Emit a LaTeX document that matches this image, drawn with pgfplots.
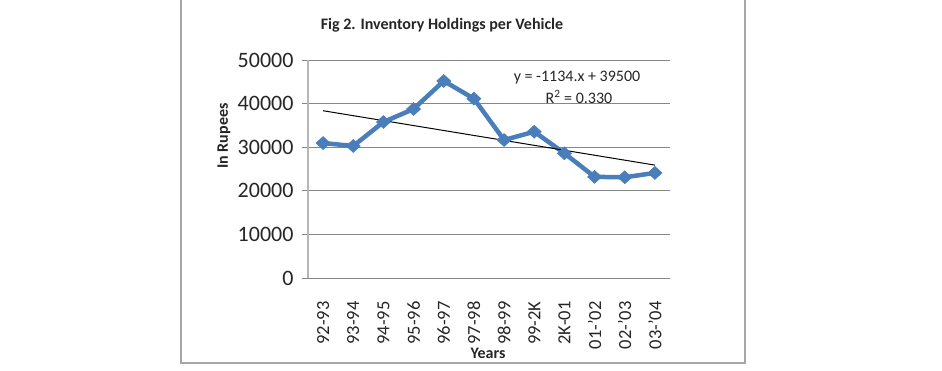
\documentclass[border=0pt]{standalone}
\usepackage{pgfplots}
\pgfplotsset{compat=1.18}
\usepackage{fontspec}
\setmainfont{Carlito}
\definecolor{serblue}{HTML}{4A7EBB}
\definecolor{gridgray}{HTML}{868686}
\definecolor{framegray}{HTML}{A6A6A6}
\begin{document}
\begin{tikzpicture}[x=1pt,y=1pt]
\useasboundingbox (0,0) rectangle (942,370);
\fill[white] (0,0) rectangle (942,370);
\draw[framegray, line width=2pt] (181,372) -- (181,7) -- (745,7) -- (745,372);
\begin{axis}[
  at={(308pt,92pt)}, anchor=south west,
  scale only axis, width=362pt, height=218pt,
  xmin=0.5, xmax=12.5, ymin=0, ymax=50000,
  xtick={1,...,12},
  xticklabels={92-93,93-94,94-95,95-96,96-97,97-98,98-99,99-2K,2K-01,01-'02,02-'03,03-'04},
  ytick={0,10000,20000,30000,40000,50000},
  scaled y ticks=false,
  /pgf/number format/assume math mode=true,
  yticklabel={\pgfmathprintnumber[fixed,1000 sep={}]{\tick}},
  axis x line*=bottom, axis y line*=left,
  axis line style={-, draw=gridgray!60, line width=1.2pt},
  x axis line style={draw=gridgray, line width=1pt},
  ymajorgrids, grid style={gridgray, line width=1pt},
  major x tick style={draw=none},
  major y tick style={gridgray, line width=1pt},
  tick align=outside, major tick length=6pt,
  ticklabel style={text=black!85},
  yticklabel style={font=\fontsize{22}{26}\selectfont},
  yticklabel shift=5pt,
  xticklabel style={rotate=90, anchor=east, font=\fontsize{18.5}{22}\selectfont},
  xticklabel shift=14pt,
  clip=false,
]
\addplot[serblue, line width=4.5pt, mark=diamond*, mark size=6.5pt,
  mark options={xscale=1.45, line width=0.5pt, fill=serblue, draw=serblue}]
coordinates {
(1,30950) (2,30280) (3,35780) (4,38760) (5,45190) (6,41130)
(7,31650) (8,33560) (9,28600) (10,23200) (11,23100) (12,24100)
};
\addplot[black, line width=1pt, no marks] coordinates {(1,38366) (12,25892)};
\end{axis}
\node[font=\bfseries\fontsize{16}{19}\selectfont, text=black!85] at (442,345) {Fig 2. Inventory Holdings per Vehicle};
\node[font=\bfseries\fontsize{16}{19}\selectfont, text=black!85, rotate=90] at (224,234) {In Rupees};
\node[font=\bfseries\fontsize{16}{19}\selectfont, text=black!85] at (488,17) {Years};
\node[font=\fontsize{16}{19}\selectfont, text=black!85] at (577,292) {y = -1134.x + 39500};
\node[font=\fontsize{16}{19}\selectfont, text=black!85] at (579,273) {R\textsuperscript{2} = 0.330};
\end{tikzpicture}
\end{document}
